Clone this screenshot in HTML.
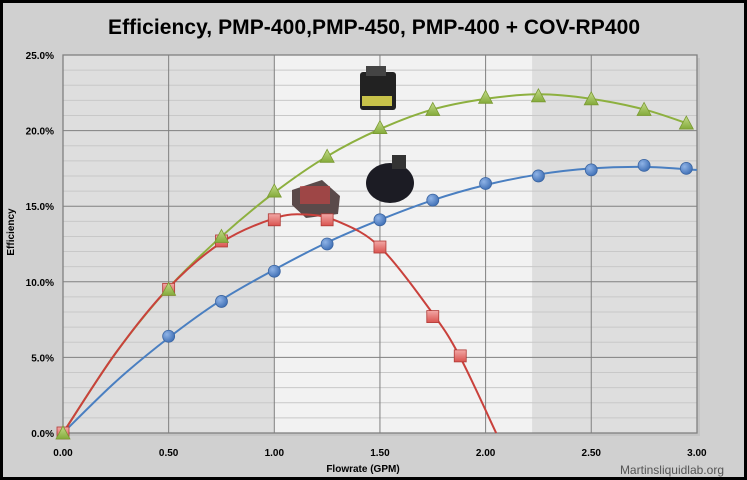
<!DOCTYPE html>
<html><head><style>
html,body{margin:0;padding:0;background:#000;}
#c{position:absolute;left:0;top:0;width:747px;height:480px;}
</style></head><body>
<svg id="c" width="747" height="480" xmlns="http://www.w3.org/2000/svg" font-family="Liberation Sans, sans-serif">
<defs>
<radialGradient id="bg" cx="0.35" cy="0.35" r="0.7"><stop offset="0" stop-color="#8fb3e6"/><stop offset="1" stop-color="#3f6fb5"/></radialGradient>
<linearGradient id="gg" x1="0" y1="0" x2="0" y2="1"><stop offset="0" stop-color="#c4dc8a"/><stop offset="1" stop-color="#84aa3a"/></linearGradient>
<linearGradient id="rg" x1="0" y1="0" x2="0" y2="1"><stop offset="0" stop-color="#f2a8a6"/><stop offset="1" stop-color="#d9534f"/></linearGradient>
</defs>
<rect x="3" y="3" width="741" height="474" fill="#d0d0d0"/>
<text x="374" y="34" text-anchor="middle" font-size="21" font-weight="bold" fill="#000" textLength="532">Efficiency, PMP-400,PMP-450, PMP-400 + COV-RP400</text>
<rect x="66" y="58" width="634" height="378" fill="#b8b8b8" opacity="0.5"/>
<g id="plot"></g>
<text x="14" y="232" font-size="10" font-weight="bold" transform="rotate(-90 14 232)" text-anchor="middle">Efficiency</text>
<text x="363" y="472" font-size="10" font-weight="bold" text-anchor="middle">Flowrate (GPM)</text>
<text x="724" y="474" font-size="12" fill="#555" text-anchor="end">Martinsliquidlab.org</text>
</svg>
<script>
var X=function(v){return 63+v*211.3},Y=function(p){return 433-p*15.12};
var s='';
s+='<rect x="63" y="55" width="634" height="378" fill="#dedede"/>';
s+='<rect x="'+X(1)+'" y="55" width="'+(X(2.22)-X(1))+'" height="378" fill="#f2f2f2"/>';
for(var p=1;p<25;p++){if(p%5)s+='<line x1="63" x2="697" y1="'+Y(p)+'" y2="'+Y(p)+'" stroke="#c8c8c8" stroke-width="1"/>';}
for(var p=5;p<25;p+=5)s+='<line x1="63" x2="697" y1="'+Y(p)+'" y2="'+Y(p)+'" stroke="#808080" stroke-width="1"/>';
for(var v=0.5;v<3;v+=0.5)s+='<line y1="55" y2="433" x1="'+X(v)+'" x2="'+X(v)+'" stroke="#808080" stroke-width="1"/>';
s+='<rect x="63" y="55" width="634" height="378" fill="none" stroke="#808080" stroke-width="1.3"/>';
for(var p=0;p<=25;p+=5)s+='<text x="54" y="'+(Y(p)+4)+'" font-size="10" font-weight="bold" text-anchor="end">'+p.toFixed(1)+'%</text>';
for(var v=0;v<=3.001;v+=0.5)s+='<text x="'+X(v)+'" y="456" font-size="10" font-weight="bold" text-anchor="middle">'+v.toFixed(2)+'</text>';
// pumps
s+='<rect x="360" y="72" width="36" height="38" fill="#222" rx="3"/><rect x="366" y="66" width="20" height="10" fill="#444"/><rect x="362" y="96" width="30" height="10" fill="#c8c24a"/>';
s+='<ellipse cx="390" cy="183" rx="24" ry="20" fill="#1c1c24"/><rect x="392" y="155" width="14" height="14" fill="#333"/>';
s+='<polygon points="292,190 322,180 340,196 338,214 306,218 292,205" fill="#5a4a4a"/><rect x="300" y="186" width="30" height="18" fill="#b44" opacity="0.7"/>';
function curve(pts,c){var d='M'+X(pts[0][0])+','+Y(pts[0][1]);
 for(var i=0;i<pts.length-1;i++){var p0=pts[Math.max(i-1,0)],p1=pts[i],p2=pts[i+1],p3=pts[Math.min(i+2,pts.length-1)];
 var c1x=X(p1[0])+(X(p2[0])-X(p0[0]))/6,c1y=Y(p1[1])+(Y(p2[1])-Y(p0[1]))/6,c2x=X(p2[0])-(X(p3[0])-X(p1[0]))/6,c2y=Y(p2[1])-(Y(p3[1])-Y(p1[1]))/6;
 d+=' C'+c1x+','+c1y+' '+c2x+','+c2y+' '+X(p2[0])+','+Y(p2[1]);}
 return '<path d="'+d+'" fill="none" stroke="'+c+'" stroke-width="2"/>';}
s+=curve([[0,0],[0.25,5.3],[0.5,9.6],[0.75,13.0],[1,15.9],[1.25,18.3],[1.5,20.1],[1.75,21.4],[2,22.1],[2.25,22.4],[2.5,22.1],[2.75,21.4],[2.97,20.4]],'#8db03f');
s+=curve([[0,0],[0.25,3.4],[0.5,6.3],[0.75,8.8],[1,10.8],[1.25,12.6],[1.5,14.1],[1.75,15.4],[2,16.4],[2.25,17.1],[2.5,17.5],[2.75,17.6],[3,17.4]],'#4a7fc1');
s+=curve([[0,0],[0.25,5.3],[0.5,9.6],[0.75,12.6],[1,14.2],[1.15,14.45],[1.3,14.0],[1.5,12.3],[1.75,7.9],[1.88,5.0],[2.05,0]],'#c9413c');
var B=[[0,0],[0.5,6.4],[0.75,8.7],[1,10.7],[1.25,12.5],[1.5,14.1],[1.75,15.4],[2,16.5],[2.25,17.0],[2.5,17.4],[2.75,17.7],[2.95,17.5]];
var R=[[0,0],[0.5,9.5],[0.75,12.7],[1,14.1],[1.25,14.1],[1.5,12.3],[1.75,7.7],[1.88,5.1]];
var G=[[0,0],[0.5,9.5],[0.75,13],[1,16],[1.25,18.3],[1.5,20.2],[1.75,21.4],[2,22.2],[2.25,22.3],[2.5,22.1],[2.75,21.4],[2.95,20.5]];
B.forEach(function(p){s+='<circle cx="'+X(p[0])+'" cy="'+Y(p[1])+'" r="6" fill="url(#bg)" stroke="#3a64a0" stroke-width="0.8"/>';});
R.forEach(function(p){s+='<rect x="'+(X(p[0])-6)+'" y="'+(Y(p[1])-6)+'" width="12" height="12" fill="url(#rg)" stroke="#b03a36" stroke-width="0.8"/>';});
G.forEach(function(p){var x=X(p[0]),y=Y(p[1]);s+='<polygon points="'+x+','+(y-7)+' '+(x-7)+','+(y+6)+' '+(x+7)+','+(y+6)+'" fill="url(#gg)" stroke="#7a9a32" stroke-width="0.8"/>';});
document.getElementById('plot').innerHTML=s;
</script>
</body></html>
